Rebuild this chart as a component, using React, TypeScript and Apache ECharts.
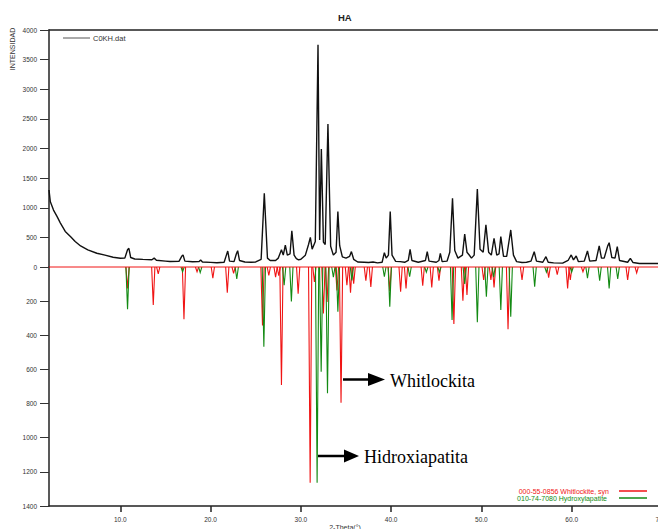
import React, { useEffect, useRef } from "react";
import * as echarts from "echarts";

// ---- data ----
const X_MIN = 2.1;
const X_MAX = 72;
const X_TICKS = [10, 20, 30, 40, 50, 60, 70];
const TOP_MAX = 4000;
const TOP_STEP = 500;
const BOTTOM_MAX = 1400;
const BOTTOM_STEP = 200;

const TITLE = "HA";
const Y_NAME = "INTENSIDAD";
const X_NAME = "2-Theta(°)";
const LEGEND_OBS = "C0KH.dat";
const LEGEND_WHIT = "000-55-0856 Whitlockite, syn";
const LEGEND_HAP = "010-74-7080 Hydroxylapatite";
const NOTE_WHIT = "Whitlockita";
const NOTE_HAP = "Hidroxiapatita";

// observed pattern C0KH.dat : [2θ, intensity]
const observed: [number, number][] = [
  [2.1, 1300], [2.25, 1100], [2.6, 960], [3.0, 850], [3.35, 745], [3.9, 600], [4.5, 510],
  [5.0, 430], [5.6, 355], [6.4, 290], [7.4, 232], [8.3, 200], [9.2, 165], [10.0, 148],
  [10.5, 150], [10.8, 290], [10.95, 316], [11.15, 160], [11.6, 135], [12.5, 128], [13.5, 122],
  [13.75, 150], [14.0, 115], [15.0, 100], [15.5, 92], [16.5, 95], [16.8, 180], [16.95, 205],
  [17.15, 100], [18.0, 88], [18.7, 90], [18.9, 118], [19.1, 85], [20.0, 78], [20.7, 72],
  [21.5, 80], [21.75, 200], [21.9, 270], [22.1, 100], [22.6, 90], [22.85, 220], [23.0, 275],
  [23.2, 110], [23.8, 85], [24.5, 80], [25.0, 85], [25.6, 130], [25.95, 1245], [26.3, 150],
  [26.6, 110], [27.2, 110], [27.5, 150], [27.85, 290], [28.05, 200], [28.28, 370], [28.5, 200],
  [28.8, 220], [29.0, 610], [29.25, 200], [29.5, 140], [29.75, 120], [30.0, 130], [30.5, 200],
  [30.85, 380], [31.05, 500], [31.25, 300], [31.6, 430], [31.9, 3750], [32.08, 455],
  [32.27, 1990], [32.5, 420], [32.7, 380], [33.0, 2415], [33.3, 350], [33.6, 200], [33.9, 250],
  [34.1, 935], [34.3, 360], [34.6, 170], [35.0, 150], [35.4, 180], [35.6, 260], [35.85, 130],
  [36.3, 85], [37.0, 80], [37.5, 75], [38.0, 85], [38.5, 70], [39.0, 80], [39.25, 242],
  [39.45, 150], [39.7, 200], [39.9, 935], [40.1, 200], [40.5, 95], [41.0, 90], [41.5, 80],
  [41.9, 110], [42.1, 298], [42.3, 110], [43.0, 80], [43.8, 110], [44.0, 259], [44.2, 100],
  [45.0, 80], [45.3, 110], [45.45, 231], [45.65, 90], [46.2, 100], [46.5, 250], [46.8, 1160],
  [47.05, 280], [47.4, 150], [47.9, 200], [48.15, 557], [48.4, 250], [48.65, 203], [48.9, 150],
  [49.2, 200], [49.55, 1318], [49.85, 300], [50.2, 250], [50.5, 710], [50.8, 250], [51.1, 200],
  [51.4, 485], [51.7, 200], [51.95, 220], [52.15, 512], [52.45, 180], [52.8, 180], [53.25, 625],
  [53.55, 200], [53.9, 90], [54.5, 75], [55.0, 80], [55.5, 100], [55.85, 259], [56.1, 100],
  [56.8, 80], [57.15, 174], [57.4, 80], [58.0, 70], [59.0, 65], [59.6, 110], [59.95, 203],
  [60.2, 120], [60.5, 186], [60.75, 90], [61.4, 100], [61.75, 270], [62.0, 100], [62.7, 110],
  [63.05, 355], [63.3, 150], [63.6, 150], [64.0, 360], [64.15, 410], [64.45, 160], [64.8, 150],
  [65.05, 343], [65.3, 110], [66.2, 80], [66.5, 147], [66.8, 75], [67.5, 60], [68.5, 60],
  [69.5, 58], [70.5, 55], [72, 55],
];

// reference pattern Whitlockite : [2θ, intensity]
const whitlockite: [number, number][] = [
  [10.8, 125], [13.65, 223], [14.2, 41], [17.05, 306], [18.5, 28], [20.25, 66], [21.85, 150],
  [22.55, 37], [25.75, 342], [26.45, 49], [27.2, 59], [27.55, 50], [27.85, 691], [29.7, 156],
  [31.03, 1264], [31.5, 88], [32.5, 273], [32.9, 205], [34.0, 137], [34.45, 795], [35.1, 107],
  [35.5, 150], [35.85, 98], [37.2, 80], [37.75, 117], [39.85, 140], [41.05, 145], [41.65, 125],
  [43.5, 110], [44.5, 120], [45.3, 80], [46.95, 334], [47.95, 198], [48.4, 164], [50.25, 76],
  [51.05, 76], [51.4, 120], [52.95, 365], [54.5, 76], [57.45, 62], [58.4, 45], [59.55, 125],
  [59.85, 76], [61.25, 28], [66.2, 76], [67.2, 35],
];

// reference pattern Hydroxylapatite : [2θ, intensity]
const hydroxylapatite: [number, number][] = [
  [10.8, 248], [16.9, 28], [18.85, 33], [22.9, 70], [25.9, 467], [28.15, 107], [28.95, 202],
  [31.8, 1264], [32.25, 613], [32.95, 740], [33.6, 60], [34.1, 262], [35.65, 78], [39.25, 57],
  [39.85, 232], [42.05, 57], [43.9, 30], [45.35, 30], [46.75, 310], [48.15, 100], [49.55, 324],
  [50.55, 174], [51.35, 60], [52.15, 252], [53.25, 291], [55.9, 115], [57.2, 30], [60.0, 30],
  [61.75, 66], [63.1, 80], [64.15, 125], [65.1, 70],
];

const RED = "#f01414";
const GREEN = "#138a13";
const HALF_WIDTH = 0.18;
const SANS = "Liberation Sans, Arial, sans-serif";
const SERIF = "Liberation Serif, Times New Roman, serif";

const spike = (color: string) => (_params: any, api: any) => {
  const x = api.value(0);
  const h = api.value(1);
  const pts = [api.coord([x - HALF_WIDTH, 0]), api.coord([x, h]), api.coord([x + HALF_WIDTH, 0])];
  return {
    type: "polyline",
    shape: { points: pts },
    style: { stroke: color, fill: null, lineWidth: 1.1 },
  };
};

export default function App() {
  const ref = useRef<HTMLDivElement>(null);

  useEffect(() => {
    if (!ref.current) return;
    const chart = echarts.init(ref.current, null, { renderer: "svg" });

    const axisLine = { show: true, onZero: false, lineStyle: { color: "#222", width: 1.5 } };
    const yLabel = {
      fontSize: 6.5, color: "#333", fontFamily: SANS, margin: 12,
      formatter: (v: number) => String(v),
    };
    const yTick = { show: true, length: 9, lineStyle: { color: "#333", width: 1 } };

    const option: any = {
      animation: false,
      backgroundColor: "#fff",
      grid: [
        { left: 49, top: 30, width: 631, height: 237 },
        { left: 49, top: 267, width: 631, height: 239 },
      ],
      xAxis: [
        {
          type: "value", gridIndex: 0, min: X_MIN, max: X_MAX, position: "top",
          axisLine, axisTick: { show: false }, axisLabel: { show: false }, splitLine: { show: false },
        },
        {
          type: "value", gridIndex: 1, min: X_MIN, max: X_MAX, position: "bottom",
          axisLine,
          axisTick: { show: true, customValues: X_TICKS, length: 6, lineStyle: { color: "#222", width: 1.5 } },
          axisLabel: {
            customValues: X_TICKS, formatter: (v: number) => v.toFixed(1),
            fontSize: 6.5, color: "#333", fontFamily: SANS, margin: 10,
          },
          splitLine: { show: false },
        },
      ],
      yAxis: [
        {
          type: "value", gridIndex: 0, min: 0, max: TOP_MAX, interval: TOP_STEP,
          axisLine, axisTick: yTick, axisLabel: yLabel, splitLine: { show: false },
        },
        {
          type: "value", gridIndex: 1, min: 0, max: BOTTOM_MAX, interval: BOTTOM_STEP, inverse: true,
          axisLine, axisTick: yTick, axisLabel: { ...yLabel, showMinLabel: false },
          splitLine: { show: false },
        },
      ],
      series: [
        {
          type: "custom", name: LEGEND_WHIT, xAxisIndex: 1, yAxisIndex: 1,
          renderItem: spike(RED), data: whitlockite, encode: { x: 0, y: 1 }, clip: true, z: 2,
        },
        {
          type: "custom", name: LEGEND_HAP, xAxisIndex: 1, yAxisIndex: 1,
          renderItem: spike(GREEN), data: hydroxylapatite, encode: { x: 0, y: 1 }, clip: true, z: 3,
        },
        {
          type: "line", xAxisIndex: 1, yAxisIndex: 1, data: [[X_MIN, 0], [X_MAX, 0]],
          showSymbol: false, clip: false, lineStyle: { color: RED, width: 1 }, z: 4, silent: true,
        },
        {
          type: "line", name: LEGEND_OBS, xAxisIndex: 0, yAxisIndex: 0, data: observed,
          showSymbol: false, lineStyle: { color: "#111", width: 1.4 }, z: 5,
        },
      ],
      graphic: [
        { type: "text", left: 338, top: 12, style: { text: TITLE, font: `bold 9.5px ${SANS}`, fill: "#222" } },
        {
          type: "text", x: 12, y: 49, rotation: Math.PI / 2,
          style: { text: Y_NAME, font: `7px ${SANS}`, fill: "#333", align: "center", verticalAlign: "middle" },
        },
        { type: "line", shape: { x1: 63, y1: 38, x2: 90, y2: 38 }, style: { stroke: "#555", lineWidth: 1 } },
        {
          type: "text", x: 93, y: 38,
          style: { text: LEGEND_OBS, font: `7.5px ${SANS}`, fill: "#333", verticalAlign: "middle" },
        },
        {
          type: "text", x: 609, y: 491,
          style: { text: LEGEND_WHIT, font: `7px ${SANS}`, fill: RED, align: "right", verticalAlign: "middle" },
        },
        { type: "line", shape: { x1: 619, y1: 491, x2: 647, y2: 491 }, style: { stroke: RED, lineWidth: 1.5 } },
        {
          type: "text", x: 607, y: 498,
          style: { text: LEGEND_HAP, font: `7px ${SANS}`, fill: GREEN, align: "right", verticalAlign: "middle" },
        },
        { type: "line", shape: { x1: 619, y1: 498, x2: 647, y2: 498 }, style: { stroke: GREEN, lineWidth: 1.5 } },
        {
          type: "text", x: 345, y: 524,
          style: { text: X_NAME, font: `7px ${SANS}`, fill: "#333", align: "center", verticalAlign: "top" },
        },
        // annotation arrows
        { type: "line", shape: { x1: 343, y1: 379.5, x2: 372, y2: 379.5 }, style: { stroke: "#000", lineWidth: 2.5 } },
        {
          type: "polygon", shape: { points: [[368, 373], [385, 379.5], [368, 386]] },
          style: { fill: "#000" },
        },
        {
          type: "text", x: 390, y: 381,
          style: { text: NOTE_WHIT, font: `18px ${SERIF}`, fill: "#000", verticalAlign: "middle" },
        },
        { type: "line", shape: { x1: 318, y1: 456, x2: 348, y2: 456 }, style: { stroke: "#000", lineWidth: 2.5 } },
        {
          type: "polygon", shape: { points: [[344, 449.5], [359, 456], [344, 462.5]] },
          style: { fill: "#000" },
        },
        {
          type: "text", x: 364, y: 457,
          style: { text: NOTE_HAP, font: `18px ${SERIF}`, fill: "#000", verticalAlign: "middle" },
        },
      ],
    };

    chart.setOption(option);
    return () => chart.dispose();
  }, []);

  return (
    <div
      style={{
        position: "fixed", left: 0, top: 0, width: 658, height: 529,
        overflow: "hidden", background: "#fff",
      }}
    >
      <div ref={ref} style={{ width: 700, height: 529 }} />
    </div>
  );
}
